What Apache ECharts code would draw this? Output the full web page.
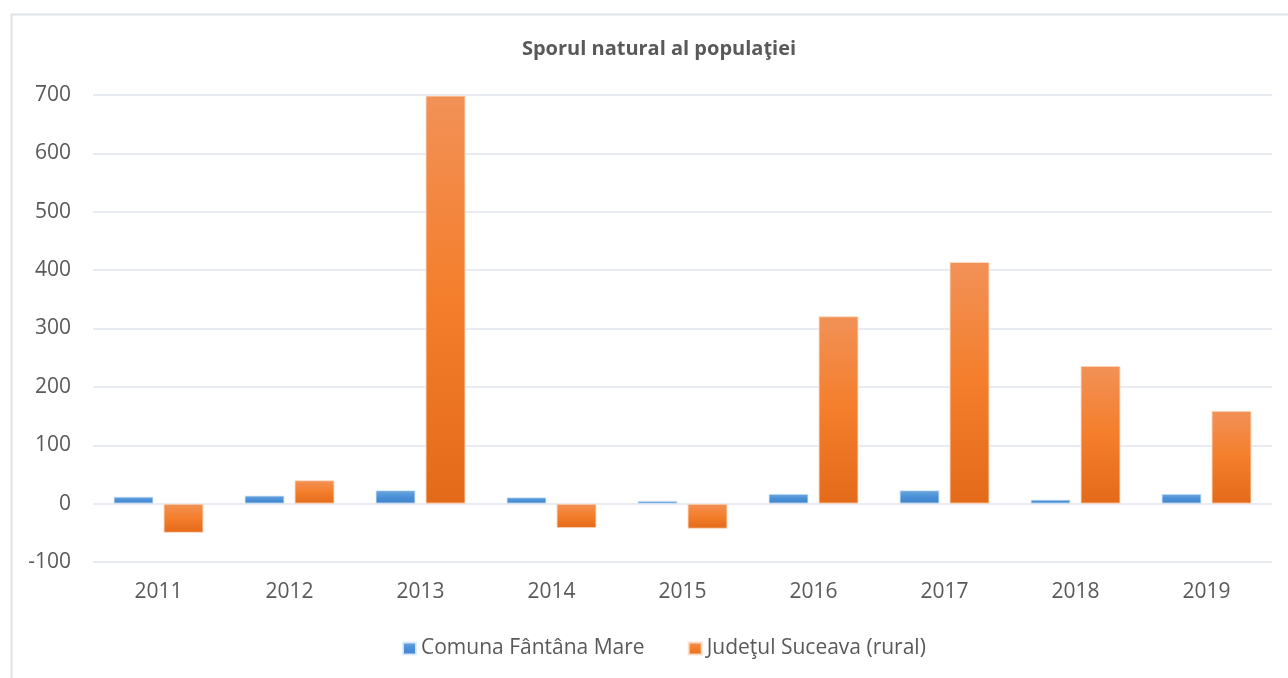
<!DOCTYPE html>
<html>
<head>
<meta charset="utf-8">
<script src="https://cdn.jsdelivr.net/npm/echarts@6/dist/echarts.min.js"></script>
<style>
html,body{margin:0;padding:0;background:#fff;}
#chart{width:1288px;height:678px;}
</style>
</head>
<body>
<div id="chart"></div>
<script>
const categories = ['2011','2012','2013','2014','2015','2016','2017','2018','2019'];
const seriesNames = ['Comuna Fântâna Mare','Judeţul Suceava (rural)'];
const comunaValues = [12, 14, 23, 11, 5, 17, 23, 7, 17];
const judetValues = [-50, 40, 699, -42, -43, 321, 414, 236, 159];
const yTicks = { min: -100, max: 700, interval: 100 };
const titleText = 'Sporul natural al populaţiei';

const FONT = '"Open Sans", "DejaVu Sans", sans-serif';
const TXT = '#595959';

const blueGrad = new echarts.graphic.LinearGradient(0,0,0,1,[
  {offset:0,color:'#6ea7dd'},{offset:0.5,color:'#4b90d8'},{offset:1,color:'#3f83c8'}]);
const orangeGrad = new echarts.graphic.LinearGradient(0,0,0,1,[
  {offset:0,color:'#f29157'},{offset:0.5,color:'#f47e2b'},{offset:1,color:'#e36a19'}]);

const chart = echarts.init(document.getElementById('chart'));
chart.setOption({
  animation:false,
  backgroundColor:'#fff',
  textStyle:{fontFamily:FONT},
  graphic:[{
    type:'rect', left:9, top:12, silent:true,
    shape:{x:0,y:0,width:1300,height:700},
    style:{fill:'none',stroke:'#dde2ea',lineWidth:2}
  }],
  title:{
    text:titleText, left:654, top:34, textAlign:'center',
    textStyle:{fontFamily:FONT,fontSize:20,fontWeight:'bold',color:TXT}
  },
  legend:{
    data:seriesNames, left:397, top:633, icon:'rect', itemWidth:13, itemHeight:12,
    itemGap:43, textStyle:{fontFamily:FONT,fontSize:21,color:TXT}
  },
  grid:{left:93,right:16,top:95,bottom:116,containLabel:false},
  xAxis:{
    type:'category', data:categories,
    axisLine:{show:false,onZero:false}, axisTick:{show:false},
    axisLabel:{fontFamily:FONT,fontSize:21,color:TXT,margin:20}
  },
  yAxis:{
    type:'value', min:yTicks.min, max:yTicks.max, interval:yTicks.interval,
    axisLine:{show:false}, axisTick:{show:false},
    axisLabel:{fontFamily:FONT,fontSize:21,color:TXT,margin:22},
    splitLine:{lineStyle:{color:'#e1e5ec',width:1.5}}
  },
  series:[
    {name:seriesNames[0],type:'bar',data:comunaValues,barWidth:40,barGap:'25%',
     itemStyle:{color:blueGrad,borderColor:'rgba(220,235,250,0.9)',borderWidth:1}},
    {name:seriesNames[1],type:'bar',data:judetValues,barWidth:40,barGap:'25%',
     itemStyle:{color:orangeGrad,borderColor:'rgba(252,222,200,0.9)',borderWidth:1}}
  ]
});
</script>
</body>
</html>
